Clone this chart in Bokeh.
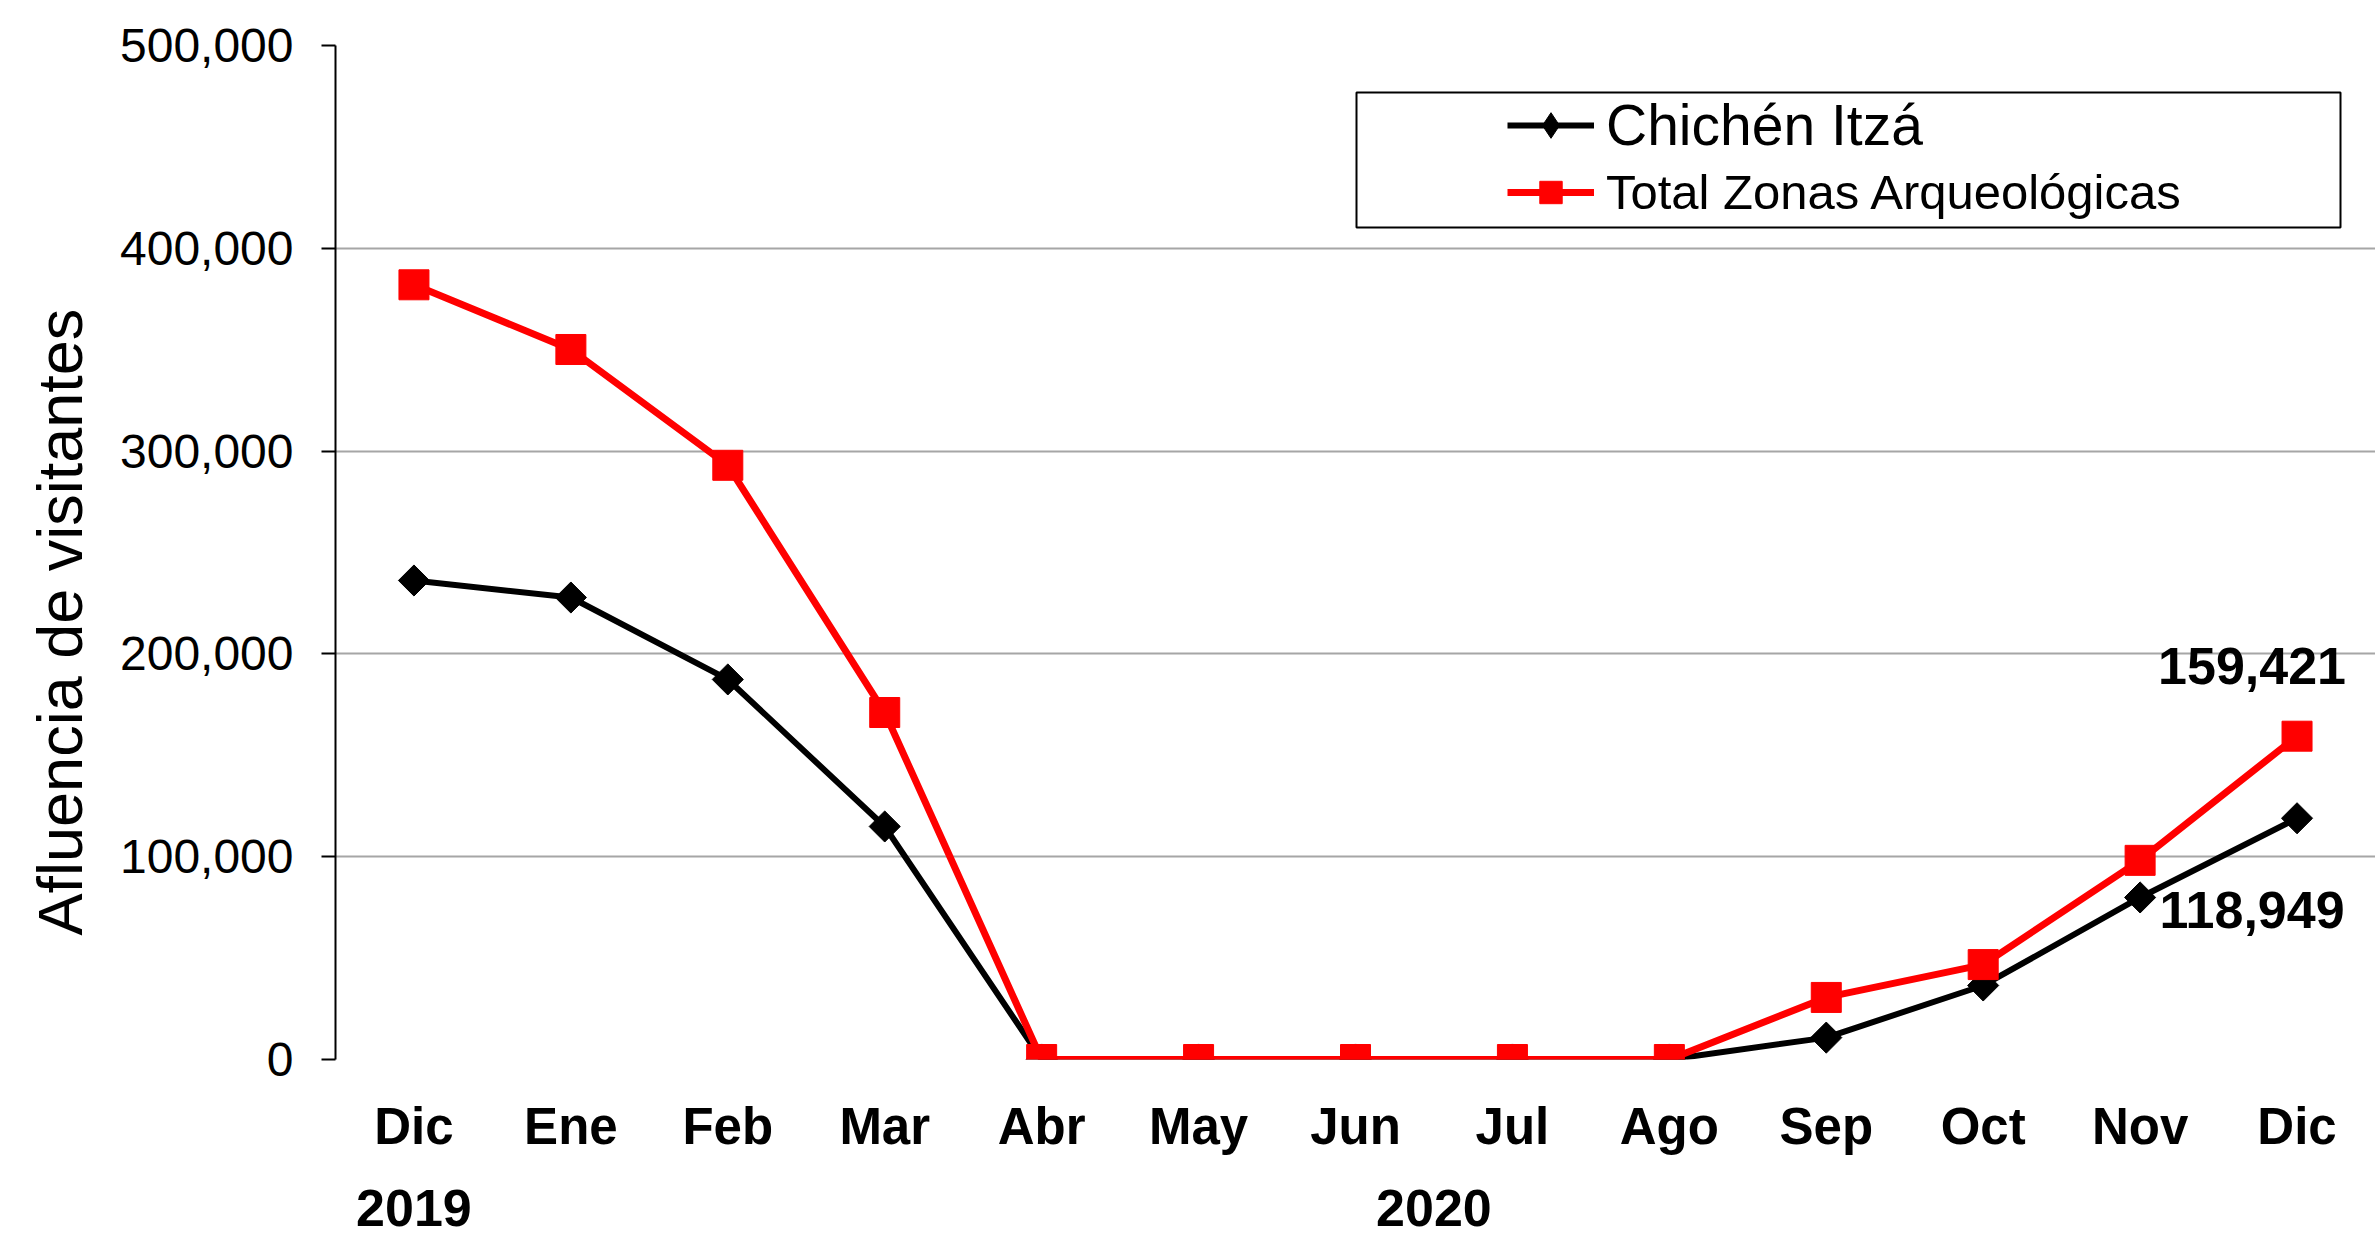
import math
from bokeh.plotting import figure
from bokeh.models import (FactorRange, Range1d, NumeralTickFormatter, FixedTicker,
                          Legend, LegendItem, BoxAnnotation, Title, ColumnDataSource)
from bokeh.core.properties import value
from bokeh.embed import file_html
from bokeh.resources import INLINE

# ---- data ----
years = ["2019"] + ["2020"] * 12
months = ["Dic", "Ene", "Feb", "Mar", "Abr", "May", "Jun", "Jul", "Ago", "Sep", "Oct", "Nov", "Dic"]
chichen = [236200, 227800, 187400, 114900, 0, 0, 0, 0, 0, 10800, 36500, 79900, 118949]
total = [382000, 350100, 293000, 171100, 0, 0, 0, 0, 0, 30600, 46800, 98200, 159421]
y_ticks = [0, 100000, 200000, 300000, 400000, 500000]
series_names = ["Chichén Itzá", "Total Zonas Arqueológicas"]
y_title = "Afluencia de visitantes"

FONT = "Liberation Sans"

factors = list(zip(years, months))
src = ColumnDataSource(dict(x=factors, chichen=chichen, total=total))

p = figure(width=2375, height=1240,
           x_range=FactorRange(*factors, range_padding=0, factor_padding=0,
                               group_padding=0, subgroup_padding=0),
           y_range=Range1d(0, 500000),
           output_backend="svg", toolbar_location=None,
           min_border_left=335, min_border_top=45, min_border_bottom=181, min_border_right=0)
p.outline_line_color = None
p.background_fill_color = "white"

# y axis
p.yaxis.ticker = FixedTicker(ticks=y_ticks)
p.yaxis.formatter = NumeralTickFormatter(format="0,0")
p.yaxis.major_label_text_font = FONT
p.yaxis.major_label_text_font_size = "48px"
p.yaxis.major_label_text_color = "black"
p.yaxis.major_tick_out = 14
p.yaxis.major_tick_in = 0
p.yaxis.minor_tick_line_color = None
p.yaxis.axis_line_width = 2
p.yaxis.axis_line_color = "black"
p.yaxis.major_tick_line_width = 2
p.yaxis.major_tick_line_color = "black"
p.yaxis.major_label_standoff = 28

# x axis
p.xaxis.axis_line_color = None
p.xaxis.major_tick_line_color = None
p.xaxis.major_label_text_font = FONT
p.xaxis.major_label_text_font_size = "51px"
p.xaxis.major_label_text_font_style = "bold"
p.xaxis.major_label_text_color = "black"
p.xaxis.group_text_font = FONT
p.xaxis.group_text_font_size = "52px"
p.xaxis.group_text_font_style = "bold"
p.xaxis.group_text_color = "black"
p.xaxis.separator_line_color = None
p.xaxis.major_label_standoff = 32

# grid
p.xgrid.grid_line_color = None
p.ygrid.grid_line_color = "#a6a6a6"
p.ygrid.grid_line_width = 2

# series
rc_line = p.line("x", "chichen", source=src, line_color="black", line_width=6)
rc_mark = p.scatter("x", "chichen", source=src, marker="square", size=22, angle=math.pi / 4,
                    fill_color="black", line_color="black")
rt_line = p.line("x", "total", source=src, line_color="#FF0000", line_width=7)
rt_mark = p.scatter("x", "total", source=src, marker="square", size=30,
                    fill_color="#FF0000", line_color="#FF0000")
# legend-only diamond swatch (value is NaN, so nothing is drawn in the plot area)
leg_src = ColumnDataSource(dict(x=[factors[0]], y=[float("nan")]))
rc_leg = p.scatter("x", "y", source=leg_src, marker="diamond", size=36,
                   fill_color="black", line_color="black")

# end-value labels
lab_src = ColumnDataSource(dict(x=[factors[-1], factors[-1]],
                                y=[total[-1], chichen[-1]],
                                t=[f"{total[-1]:,}", f"{chichen[-1]:,}"],
                                yo=[-70, 92]))
p.text("x", "y", text="t", source=lab_src, x_offset=-45, y_offset="yo",
       text_font=value(FONT), text_font_style="bold", text_font_size="52px",
       text_align="center", text_baseline="middle", text_color="black")

# legend
box = BoxAnnotation(left=1021, right=2005, top=967, bottom=832,
                    left_units="screen", right_units="screen",
                    top_units="screen", bottom_units="screen",
                    fill_color=None, fill_alpha=0, line_color="black", line_alpha=1.0,
                    line_width=2)
p.add_layout(box)

legA = Legend(items=[LegendItem(label=series_names[0], renderers=[rc_line, rc_leg])],
              location=(1172, 901), label_text_font=FONT, label_text_font_size="57px",
              label_text_color="black",
              glyph_width=87, glyph_height=64, label_height=64, label_standoff=12,
              padding=0, margin=0, spacing=0, border_line_color=None,
              background_fill_alpha=0)
legB = Legend(items=[LegendItem(label=series_names[1], renderers=[rt_line, rt_mark])],
              location=(1172, 839), label_text_font=FONT, label_text_font_size="49px",
              label_text_color="black",
              glyph_width=87, glyph_height=56, label_height=56, label_standoff=12,
              padding=0, margin=0, spacing=0, border_line_color=None,
              background_fill_alpha=0)
p.add_layout(legA)
p.add_layout(legB)

# y axis title
p.add_layout(Title(text=y_title, align="left", offset=124, text_font=FONT,
                   text_font_size="63px", text_font_style="normal", text_color="black",
                   standoff=44), "left")

open("out.html", "w").write(file_html(p, INLINE))
